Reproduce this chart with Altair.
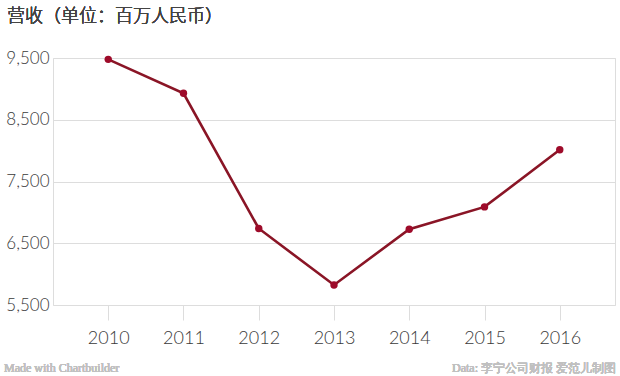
import altair as alt
import pandas as pd

years = ["2010", "2011", "2012", "2013", "2014", "2015", "2016"]
revenue = [9478, 8929, 6739, 5824, 6728, 7089, 8015]
y_ticks = [5500, 6500, 7500, 8500, 9500]

title_text = "营收（单位：百万人民币）"
footer_left = "Made with Chartbuilder"
footer_right = "Data: 李宁公司财报 爱范儿制图"

df = pd.DataFrame({"year": years, "revenue": revenue})

W, H = 562, 247
LEFT, TOP = 53, 58

x_enc = alt.X("year:O", sort=years, scale=alt.Scale(type="point", padding=0.734),
              axis=alt.Axis(title=None, labelAngle=0, domain=False, grid=False,
                            ticks=True, tickSize=15, tickColor="#dddddd", tickWidth=1,
                            labelFont="Lato", labelFontSize=18, labelFontWeight=300,
                            labelColor="#3a3a3a", labelPadding=9))
y_enc = alt.Y("revenue:Q", scale=alt.Scale(domain=[5500, 9500], nice=False, zero=False),
              axis=alt.Axis(title=None, values=y_ticks, format=",.0f", domain=False, ticks=False,
                            grid=True, gridColor="#dddddd", gridWidth=1,
                            labelFont="Lato", labelFontSize=17, labelFontWeight=300,
                            labelColor="#3a3a3a", labelPadding=4))

line = alt.Chart(df).mark_line(color="#8a1526", strokeWidth=2.6).encode(x=x_enc, y=y_enc)
pts = alt.Chart(df).mark_point(filled=True, color="#9e0b2a", size=55, opacity=1).encode(
    x=alt.X("year:O", sort=years), y="revenue:Q")

title = alt.Chart(df).mark_text(align="left", baseline="middle", font="Noto Sans CJK SC",
                                fontSize=18, fontWeight=300, color="#444444").encode(
    x=alt.value(7 - LEFT), y=alt.value(17 - TOP), text=alt.value(title_text))
fl = alt.Chart(df).mark_text(align="left", baseline="alphabetic", font="Liberation Serif",
                             fontSize=12, fontWeight="normal", color="#c0c0c0").encode(
    x=alt.value(4 - LEFT), y=alt.value(372 - TOP), text=alt.value(footer_left))
fr = alt.Chart(df).mark_text(align="right", baseline="alphabetic", font="Liberation Serif",
                             fontSize=12, fontWeight="normal", color="#c0c0c0").encode(
    x=alt.value(616 - LEFT), y=alt.value(372 - TOP), text=alt.value(footer_right))

chart = alt.layer(line, pts, title, fl, fr).properties(
    width=W, height=H,
    autosize=alt.AutoSizeParams(type="none"),
    padding={"left": LEFT, "top": TOP, "right": 620 - LEFT - W, "bottom": 376 - TOP - H},
).configure_view(stroke=None).configure(background="white")

chart.save("out.html", embed_options={"renderer": "svg", "actions": False})
